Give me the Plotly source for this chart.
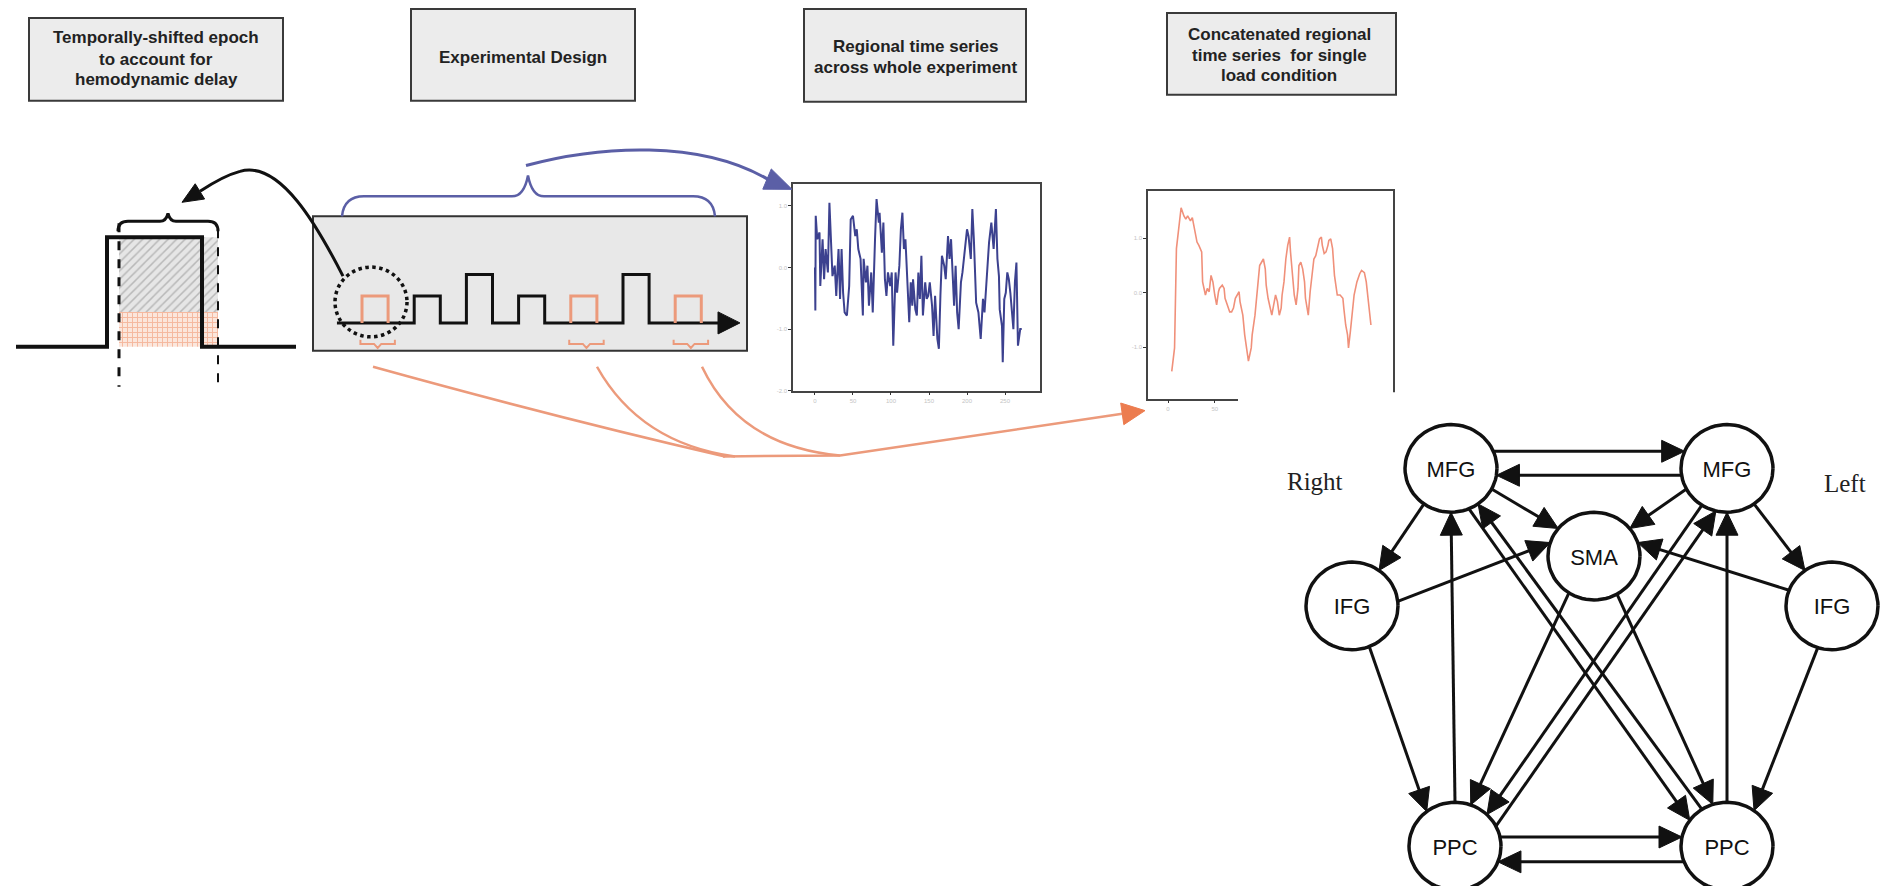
import math
import plotly.graph_objects as go

W, H = 1881, 889

# ------------------------------------------------------------------ data
# experimental design (block onsets in cycle units, relative amplitude, highlighted load)
design_onsets = [0, 1, 2, 3, 4, 5, 6]
design_duration = 0.5
design_amplitude = [1.0, 1.0, 1.8, 1.0, 1.0, 1.8, 1.0]
design_selected = [1, 0, 0, 0, 1, 0, 1]
design_start, design_end = -0.48, 7.24

# regional time series across whole experiment (blue)
blue_t = [0, 0.5, 1, 3, 6, 7, 10, 12, 14, 17,
          19, 21, 23, 26, 28, 31, 33, 35, 37, 39,
          42, 45, 47, 50, 53, 55, 57, 60, 63, 64,
          67, 69, 71, 74, 76, 79, 81, 84, 85, 88,
          90, 92, 94, 96, 99, 101, 103, 106, 108, 111,
          113, 115, 117, 119, 121, 124, 126, 128, 129, 132,
          134, 136, 138, 140, 142, 145, 147, 149, 151, 154,
          156, 158, 161, 163, 165, 167, 170, 172, 175, 177,
          179, 181, 183, 185, 187, 189, 192, 194, 196, 198,
          200, 202, 205, 207, 209, 212, 215, 218, 221, 223,
          225, 227, 229, 232, 234, 235, 238, 240, 242, 243,
          246, 247, 249, 251, 253, 255, 257, 259, 261, 263,
          265, 267, 270, 272]
blue_v = [0.00, -0.70, 0.84, 0.46, 0.57, -0.30, 0.46, -0.19, 0.30, -0.08,
          1.05, 0.46, -0.14, 0.03, -0.46, 0.30, -0.51, 0.30, -0.41, -0.73,
          -0.78, -0.30, 0.78, 0.84, 0.51, 0.62, 0.30, 0.14, -0.78, 0.14,
          -0.24, 0.03, -0.62, -0.08, -0.73, 0.46, 1.11, 0.73, 0.89, 0.24,
          0.73, -0.19, -0.46, -0.08, -0.30, -0.08, -1.27, -0.08, -0.41, 0.03,
          0.62, 0.89, 0.30, 0.46, -0.14, -0.89, -0.24, -0.62, -0.19, -0.68,
          -0.78, -0.08, -0.51, 0.19, -0.78, -0.24, -0.51, -0.46, -0.24, -0.62,
          -1.11, -0.46, -1.16, -1.32, -0.46, 0.19, 0.03, -0.19, 0.51, 0.14,
          0.46, -0.24, -0.62, 0.03, -0.73, -1.00, -0.24, -0.08, 0.14, 0.46,
          0.62, 0.51, 0.14, 0.95, 0.46, -0.57, -0.73, -1.16, -0.51, -0.73,
          -0.30, 0.03, 0.41, 0.73, 0.46, 0.30, 0.95, 0.14, -0.14, -0.68,
          -0.95, -1.54, -0.51, -0.41, -0.08, -0.19, -0.41, -0.78, -1.00, -0.24,
          0.08, -1.27, -1.00, -1.00]
blue_xticks = [0, 50, 100, 150, 200, 250]
blue_yticks = [1, 0, -1, -2]
blue_yticktext = ["1.0", "0.0", "-1.0", "-2.0"]

# concatenated time series for single load condition (orange)
orange_t = [4, 7, 9, 12, 14, 17, 19, 21, 24, 26,
            29, 31, 33, 36, 37, 40, 42, 44, 46, 48,
            50, 52, 54, 55, 58, 60, 61, 64, 66, 68,
            70, 72, 74, 76, 77, 80, 82, 84, 86, 89,
            90, 93, 95, 96, 98, 100, 102, 104, 105, 107,
            109, 111, 113, 115, 117, 119, 121, 122, 124, 126,
            128, 130, 131, 133, 135, 137, 139, 140, 142, 144,
            146, 147, 150, 152, 154, 156, 158, 160, 162, 164,
            165, 167, 169, 171, 172, 174, 176, 178, 180, 181,
            184, 187, 188, 190, 192, 193, 195, 197, 199, 202,
            204, 205, 207, 210, 212, 214, 217]
orange_v = [-1.44, -1.01, 0.81, 1.23, 1.56, 1.41, 1.35, 1.41, 1.32, 1.38,
            1.11, 0.93, 0.87, 0.75, 0.20, -0.04, 0.08, 0.02, 0.32, 0.20,
            -0.04, -0.22, 0.02, 0.08, 0.14, 0.08, -0.10, -0.28, -0.35, -0.35,
            -0.28, -0.10, -0.04, 0.02, -0.16, -0.41, -0.77, -1.01, -1.25, -1.01,
            -0.77, -0.41, -0.04, 0.26, 0.50, 0.56, 0.62, 0.44, 0.14, -0.10,
            -0.28, -0.41, -0.22, -0.04, -0.16, -0.41, -0.28, -0.04, 0.20, 0.62,
            0.87, 1.02, 0.75, 0.32, -0.04, -0.22, 0.08, 0.50, 0.56, 0.44,
            0.20, -0.10, -0.41, 0.02, 0.32, 0.62, 0.68, 0.87, 0.99, 1.02,
            0.87, 0.72, 0.75, 0.87, 0.96, 0.99, 0.81, 0.32, 0.08, -0.04,
            -0.04, -0.10, -0.28, -0.59, -0.77, -1.01, -0.71, -0.41, -0.04, 0.20,
            0.32, 0.35, 0.41, 0.37, 0.20, -0.16, -0.59]
orange_xticks = [0, 50, 100, 150, 200]
orange_yticks = [1, 0, -1, -2]
orange_yticktext = ["1.0", "0.0", "-1.0", "-2.0"]

# effective-connectivity network (graph layout in canvas pixels)
node_ids = ["MFG_R", "MFG_L", "SMA", "IFG_R", "IFG_L", "PPC_R", "PPC_L"]
node_labels = ["MFG", "MFG", "SMA", "IFG", "IFG", "PPC", "PPC"]
node_x = [1451, 1727, 1594, 1352, 1832, 1455, 1727]
node_y = [470, 470, 558, 608, 608, 849, 849]
edge_src = ["MFG_R", "MFG_L", "PPC_R", "PPC_L", "MFG_R", "MFG_L", "MFG_R", "MFG_L",
            "IFG_R", "IFG_L", "IFG_R", "IFG_L", "PPC_R", "PPC_L", "SMA", "SMA",
            "MFG_L", "PPC_R", "MFG_R", "PPC_L"]
edge_dst = ["MFG_L", "MFG_R", "PPC_L", "PPC_R", "IFG_R", "IFG_L", "SMA", "SMA",
            "SMA", "SMA", "PPC_R", "PPC_L", "MFG_R", "MFG_L", "PPC_R", "PPC_L",
            "PPC_R", "MFG_L", "PPC_L", "MFG_R"]

# ------------------------------------------------------------------ geometry / style
# attachment angles (deg, screen coords) of each edge on source / target circle
edge_angles = [(-23, 203), (171, 9), (-12, 192), (159, 21), (126, -54), (54, 234),
               (28, 219), (152, -39), (-6, 198), (201, -18), (68, -128), (108, -54),
               (-90, 90), (-90, 90), (123, -70), (60, -108),
               (123, -46), (-27, 104), (67, -144), (-123, 54)]
RX, RY = 46, 44

FONT = "Liberation Sans, Arial, sans-serif"
SERIF = "Liberation Serif, Times New Roman, serif"
BLUE_LINE = "#3c418f"
BLUE_BRACE = "#5b5fa6"
ORANGE = "#ec9a7b"
ORANGE_DARK = "#ec7c4f"
BOX_FILL = "#ececec"
BOX_LINE = "#3a3a3a"


def dom_x(x0, x1):
    return [x0 / W, x1 / W]


def dom_y(y0, y1):
    return [1 - y1 / H, 1 - y0 / H]


def tri_pts(tip, d, length, hw):
    bx, by = tip[0] - d[0] * length, tip[1] - d[1] * length
    px, py = -d[1], d[0]
    return [(tip[0], tip[1]), (bx + px * hw, by + py * hw), (bx - px * hw, by - py * hw)]


def tri_path(tip, d, length, hw):
    n = math.hypot(*d)
    d = (d[0] / n, d[1] / n)
    p = tri_pts(tip, d, length, hw)
    return "M{:.1f},{:.1f} L{:.1f},{:.1f} L{:.1f},{:.1f} Z".format(*p[0], *p[1], *p[2])


fig = go.Figure()
shapes = []
annotations = []


def canvas_shape(**kw):
    kw.setdefault("xref", "x")
    kw.setdefault("yref", "y")
    shapes.append(kw)


# ---------------- title boxes
boxes = [
    (29, 18, 283, 101, ["Temporally-shifted epoch", "to account for", "hemodynamic delay"], [38, 60, 80], 156),
    (411, 9, 635, 101, ["Experimental Design"], [58], 523),
    (804, 9, 1026, 102, ["Regional time series", "across whole experiment"], [47, 68], 915),
    (1167, 13, 1396, 95, ["Concatenated regional", "time series  for single", "load condition"], [35, 56, 76], 1279),
]
for x0, y0, x1, y1, lines, ys, xc in boxes:
    canvas_shape(type="rect", x0=x0, y0=y0, x1=x1, y1=y1, fillcolor=BOX_FILL,
                 line=dict(color=BOX_LINE, width=2), layer="below")
    for t, yy in zip(lines, ys):
        annotations.append(dict(x=xc, y=yy, xref="x", yref="y", text="<b>" + t + "</b>",
                                showarrow=False, xanchor="center", yanchor="middle",
                                font=dict(family=FONT, size=17, color="#222")))

# ---------------- epoch graphic
fig.add_trace(go.Scatter(x=[119, 218, 218, 119, 119], y=[238, 238, 313, 313, 238],
                         mode="lines", fill="toself", line=dict(width=0),
                         fillcolor="#e4e4e4",
                         fillpattern=dict(shape="/", fgcolor="#8a8a8a", bgcolor="#e6e6e6",
                                          size=6, solidity=0.25),
                         hoverinfo="skip", showlegend=False))
fig.add_trace(go.Scatter(x=[119, 218, 218, 119, 119], y=[313, 313, 348, 348, 313],
                         mode="lines", fill="toself", line=dict(width=0),
                         fillcolor="#fbe3d8",
                         fillpattern=dict(shape="+", fgcolor="#ef8a60", bgcolor="#fbe6dc",
                                          size=5, solidity=0.35),
                         hoverinfo="skip", showlegend=False))
canvas_shape(type="path", path="M16,348 H107 V238 H202 V348 H296",
             line=dict(color="#111", width=4))
canvas_shape(type="line", x0=119, x1=119, y0=224, y1=388, line=dict(color="#111", width=3, dash="dash"))
canvas_shape(type="line", x0=218, x1=218, y0=230, y1=388, line=dict(color="#111", width=2, dash="dash"))
canvas_shape(type="path", path="M118,232 Q118,222 128,222 L160,222 Q166,222 168,214 Q170,222 176,222 L208,222 Q218,222 218,232",
             line=dict(color="#111", width=3))
# black curved arrow back to the epoch
canvas_shape(type="path", path="M343,277 C318,228 280,160 240,172 C225,176 212,184 200,192",
             line=dict(color="#111", width=3))
canvas_shape(type="path", path=tri_path((182, 203), (-18, 11), 21, 9),
             fillcolor="#111", line=dict(color="#111", width=1))

# ---------------- experimental design box
canvas_shape(type="rect", x0=313, y0=217, x1=747, y1=352, fillcolor="#e8e8e8",
             line=dict(color="#333", width=2), layer="below")
canvas_shape(type="circle", x0=335, x1=407, y0=268, y1=338,
             line=dict(color="#111", width=3.5, dash="dot"))

wx, wy = [design_start], [0]
for on, a, s in zip(design_onsets, design_amplitude, design_selected):
    off = on + design_duration
    if s:
        wx += [on, off]
        wy += [0, 0]
    else:
        wx += [on, on, off, off]
        wy += [0, a, a, 0]
wx.append(design_end - 0.4)
wy.append(0)
fig.add_trace(go.Scatter(x=wx, y=wy, xaxis="x4", yaxis="y4", mode="lines",
                         line=dict(color="#111", width=3), hoverinfo="skip", showlegend=False))
ox, oy, bx, by = [], [], [], []
for on, a, s in zip(design_onsets, design_amplitude, design_selected):
    if not s:
        continue
    off = on + design_duration
    ox += [on, on, off, off, None]
    oy += [0, a, a, 0, None]
    c = on + design_duration / 2 + 0.05
    bx += [c - 0.33, c - 0.33, c - 0.07, c, c + 0.07, c + 0.33, c + 0.33, None]
    by += [-0.63, -0.78, -0.78, -0.93, -0.78, -0.78, -0.63, None]
fig.add_trace(go.Scatter(x=ox, y=oy, xaxis="x4", yaxis="y4", mode="lines",
                         line=dict(color=ORANGE, width=3), hoverinfo="skip", showlegend=False))
fig.add_trace(go.Scatter(x=bx, y=by, xaxis="x4", yaxis="y4", mode="lines",
                         line=dict(color=ORANGE, width=2), hoverinfo="skip", showlegend=False))
fig.add_trace(go.Scatter(x=[design_end, design_end - 0.42, design_end - 0.42, design_end],
                         y=[0, 0.41, -0.41, 0], xaxis="x4", yaxis="y4", mode="lines",
                         fill="toself", fillcolor="#111", line=dict(color="#111", width=1),
                         hoverinfo="skip", showlegend=False))

# ---------------- blue brace and arrow to regional series
canvas_shape(type="path",
             path="M342,217 Q344,197 364,197 L512,197 Q524,197 528,176 Q532,197 544,197 L693,197 Q713,197 715,217",
             line=dict(color=BLUE_BRACE, width=2.5))
canvas_shape(type="path", path="M526,166 C600,146 700,140 768,180",
             line=dict(color=BLUE_BRACE, width=3))
canvas_shape(type="path", path=tri_path((792, 190), (24, 10), 27, 11),
             fillcolor=BLUE_BRACE, line=dict(color=BLUE_BRACE, width=1))

# ---------------- orange curves to concatenated series
for p in ["M373,368 Q560,420 725,458",
          "M597,368 Q640,445 735,458",
          "M702,368 Q740,448 840,457",
          "M723,458 L840,457 Q980,436 1124,415"]:
    canvas_shape(type="path", path=p, line=dict(color=ORANGE, width=2.5))
canvas_shape(type="path", path=tri_path((1145, 412), (21, -3), 23, 11),
             fillcolor=ORANGE_DARK, line=dict(color=ORANGE_DARK, width=1))

# ---------------- time series panels
fig.add_trace(go.Scatter(x=blue_t, y=blue_v, xaxis="x2", yaxis="y2", mode="lines",
                         line=dict(color=BLUE_LINE, width=2), hoverinfo="skip", showlegend=False))
fig.add_trace(go.Scatter(x=orange_t, y=orange_v, xaxis="x3", yaxis="y3", mode="lines",
                         line=dict(color="#f0907a", width=1.6), hoverinfo="skip", showlegend=False))
# white patch hiding lower-right corner of concatenated panel
canvas_shape(type="rect", x0=1238, x1=1405, y0=393.5, y1=432, fillcolor="white",
             line=dict(width=0), layer="above")

# ---------------- network
idx = {n: i for i, n in enumerate(node_ids)}


def attach(i, ang):
    a = math.radians(ang)
    return (node_x[i] + RX * math.cos(a), node_y[i] + RY * math.sin(a))


th = [2 * math.pi * k / 72 for k in range(73)]
cx, cy = [], []
for x0, y0 in zip(node_x, node_y):
    cx += [x0 + RX * math.cos(t) for t in th] + [None]
    cy += [y0 + RY * math.sin(t) for t in th] + [None]
fig.add_trace(go.Scatter(x=cx, y=cy, mode="lines", fill="toself", fillcolor="white",
                         line=dict(color="#111", width=3.5), hoverinfo="skip", showlegend=False))

lx, ly, hx, hy = [], [], [], []
HEAD_L, HEAD_W = 23, 11
for s, d, (a0, a1) in zip(edge_src, edge_dst, edge_angles):
    p0 = attach(idx[s], a0)
    tip = attach(idx[d], a1)
    dx, dy = tip[0] - p0[0], tip[1] - p0[1]
    n = math.hypot(dx, dy)
    u = (dx / n, dy / n)
    base = (tip[0] - u[0] * (HEAD_L - 3), tip[1] - u[1] * (HEAD_L - 3))
    lx += [p0[0], base[0], None]
    ly += [p0[1], base[1], None]
    pts = tri_pts(tip, u, HEAD_L, HEAD_W)
    hx += [pts[0][0], pts[1][0], pts[2][0], pts[0][0], None]
    hy += [pts[0][1], pts[1][1], pts[2][1], pts[0][1], None]
fig.add_trace(go.Scatter(x=lx, y=ly, mode="lines", line=dict(color="#111", width=3),
                         hoverinfo="skip", showlegend=False))
fig.add_trace(go.Scatter(x=hx, y=hy, mode="lines", fill="toself", fillcolor="#111",
                         line=dict(color="#111", width=1), hoverinfo="skip", showlegend=False))
fig.add_trace(go.Scatter(x=node_x, y=[v + 3 for v in node_y], mode="text", text=node_labels,
                         textposition="middle center",
                         textfont=dict(family=FONT, size=22, color="#111"),
                         hoverinfo="skip", showlegend=False))
annotations.append(dict(x=1315, y=483, xref="x", yref="y", text="Right", showarrow=False,
                        font=dict(family=SERIF, size=25, color="#222")))
annotations.append(dict(x=1845, y=485, xref="x", yref="y", text="Left", showarrow=False,
                        font=dict(family=SERIF, size=25, color="#222")))

# ---------------- layout
hidden = dict(visible=False, showgrid=False, zeroline=False, fixedrange=True)
panel_ax = dict(showgrid=False, zeroline=False, showline=True, mirror=True, linecolor="#444",
                linewidth=1.5, ticks="outside", ticklen=3, tickcolor="#333", tickwidth=1,
                tickfont=dict(family=FONT, size=6, color="#c4c4c4"), fixedrange=True)

fig.update_layout(
    width=W, height=H, margin=dict(l=0, r=0, t=0, b=0),
    paper_bgcolor="white", plot_bgcolor="rgba(0,0,0,0)", showlegend=False,
    xaxis=dict(domain=[0, 1], range=[0, W], **hidden),
    yaxis=dict(domain=[0, 1], range=[H, 0], **hidden),
    xaxis2=dict(domain=dom_x(793, 1040), range=[-28.9, 296], anchor="y2",
                tickvals=blue_xticks, **panel_ax),
    yaxis2=dict(domain=dom_y(185, 392), range=[-2.0, 1.35], anchor="x2",
                tickvals=blue_yticks, ticktext=blue_yticktext, **panel_ax),
    xaxis3=dict(domain=dom_x(1148, 1393), range=[-21.4, 240.6], anchor="y3",
                tickvals=orange_xticks, **panel_ax),
    yaxis3=dict(domain=dom_y(192, 400), range=[-1.94, 1.86], anchor="x3",
                tickvals=orange_yticks, ticktext=orange_yticktext, **panel_ax),
    xaxis4=dict(domain=dom_x(313, 747), range=[-0.9387, 7.3755], anchor="y4", **hidden),
    yaxis4=dict(domain=dom_y(217, 352), range=[-1.037, 3.963], anchor="x4", **hidden),
    shapes=shapes, annotations=annotations,
)

fig.write_html("out.html", config={"displayModeBar": False},
               post_script="document.body.style.margin='0px';document.body.style.overflow='hidden';")
